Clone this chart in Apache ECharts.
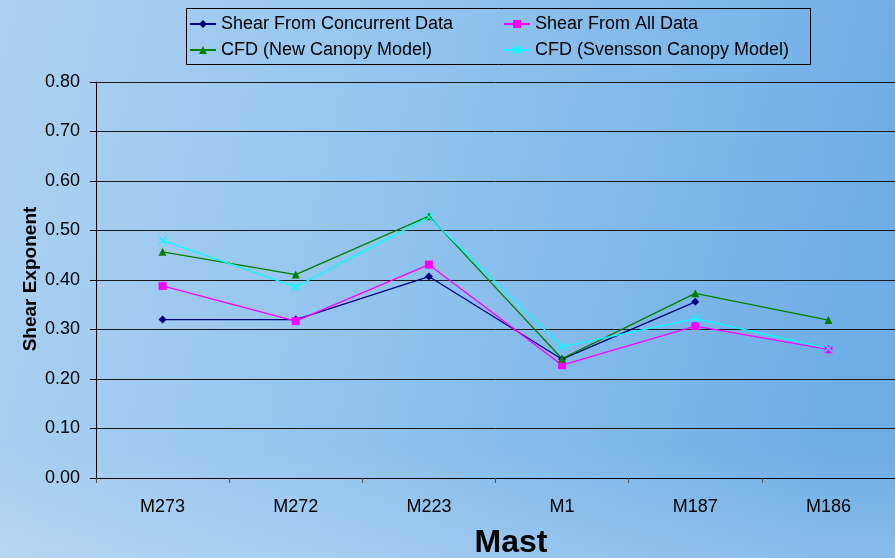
<!DOCTYPE html>
<html>
<head>
<meta charset="utf-8">
<script src="https://cdn.jsdelivr.net/npm/echarts@6/dist/echarts.min.js"></script>
<style>
  html, body { margin: 0; padding: 0; }
  #chart { width: 895px; height: 558px; }
</style>
</head>
<body>
<div id="chart"></div>
<script>
// Masts along the x axis
var masts = ['M273', 'M272', 'M223', 'M1', 'M187', 'M186'];
// Shear exponent per mast for each source
var shearConcurrent = [0.32, 0.32, 0.407, 0.24, 0.356, null];
var shearAll = [0.388, 0.317, 0.431, 0.228, 0.307, 0.26];
var cfdNewCanopy = [0.457, 0.411, 0.529, 0.241, 0.373, 0.319];
var cfdSvensson = [0.48, 0.386, 0.527, 0.265, 0.322, 0.262];
var seriesNames = ['Shear From Concurrent Data', 'Shear From All Data', 'CFD (New Canopy Model)', 'CFD (Svensson Canopy Model)'];
var yTicks = { min: 0, max: 0.8, interval: 0.1 };

var FONT = 'Liberation Sans, Arial, sans-serif';
var chart = echarts.init(document.getElementById('chart'));

function lineSeries(name, data, color, symbol, size, extra) {
  var s = {
    name: name,
    type: 'line',
    data: data,
    symbol: symbol,
    symbolSize: size,
    showAllSymbol: true,
    lineStyle: { color: color, width: 1.3 },
    itemStyle: { color: color },
    emphasis: { disabled: true },
    animation: false
  };
  if (extra) Object.assign(s.itemStyle, extra);
  return s;
}

// Thin "x" marker, drawn by its stroke
var crossPath = 'path://M0,0L10,10M10,0L0,10';

var legendText = { fontSize: 18, color: '#000', fontFamily: FONT };

chart.setOption({
  backgroundColor: new echarts.graphic.LinearGradient(0, 0, 1, 0.35, [
    { offset: 0, color: '#aed2f1' },
    { offset: 0.45, color: '#93c4ee' },
    { offset: 1, color: '#6eade6' }
  ]),
  textStyle: { fontFamily: FONT },
  graphic: [
    {
      type: 'rect', left: 0, bottom: 0, z: -10, silent: true,
      shape: { width: 895, height: 110 },
      style: {
        fill: new echarts.graphic.LinearGradient(0, 0, 0, 1, [
          { offset: 0, color: 'rgba(255,255,255,0)' },
          { offset: 1, color: 'rgba(255,255,255,0.18)' }
        ])
      }
    },
    {
      type: 'rect', left: 184, top: 6, z: 1, silent: true,
      shape: { width: 624, height: 56 },
      style: { fill: 'none', stroke: '#000', lineWidth: 1 }
    },
    {
      type: 'text', x: 511, y: 543,
      style: { text: 'Mast', font: 'bold 32px ' + FONT, fill: '#000', align: 'center', verticalAlign: 'middle' }
    },
    {
      type: 'text', x: 31, y: 279, rotation: Math.PI / 2,
      style: { text: 'Shear Exponent', font: 'bold 19px ' + FONT, fill: '#000', align: 'center', verticalAlign: 'middle' }
    }
  ],
  legend: [
    {
      orient: 'vertical', left: 184, top: 10, itemWidth: 26, itemHeight: 10, itemGap: 8,
      data: [seriesNames[0], seriesNames[2]],
      textStyle: legendText,
      selectedMode: false
    },
    {
      orient: 'vertical', left: 498, top: 10, itemWidth: 26, itemHeight: 10, itemGap: 8,
      data: [seriesNames[1], seriesNames[3]],
      textStyle: legendText,
      selectedMode: false
    }
  ],
  grid: { left: 96, right: -1, top: 82, bottom: 80, containLabel: false },
  xAxis: {
    type: 'category',
    data: masts,
    boundaryGap: true,
    axisLine: { lineStyle: { color: '#000', width: 1 } },
    axisTick: { show: true, length: 5, lineStyle: { color: '#555' } },
    axisLabel: { fontSize: 18, color: '#000', margin: 20, fontFamily: FONT },
    splitLine: { show: false }
  },
  yAxis: {
    type: 'value',
    min: yTicks.min, max: yTicks.max, interval: yTicks.interval,
    axisLine: { show: true, lineStyle: { color: '#000', width: 1 } },
    axisTick: { show: true, length: 6, lineStyle: { color: '#000' } },
    axisLabel: {
      fontSize: 18, color: '#000', margin: 16, fontFamily: FONT,
      formatter: function (v) { return v.toFixed(2); }
    },
    splitLine: { show: true, lineStyle: { color: '#1a1a1a', width: 1 } }
  },
  series: [
    lineSeries(seriesNames[0], shearConcurrent, '#000080', 'diamond', 8),
    lineSeries(seriesNames[1], shearAll, '#ff00ff', 'rect', 8),
    lineSeries(seriesNames[2], cfdNewCanopy, '#008000', 'triangle', 8),
    lineSeries(seriesNames[3], cfdSvensson, '#00ffff', crossPath, 8,
      { borderColor: '#00ffff', borderWidth: 1.3 })
  ]
});
</script>
</body>
</html>
